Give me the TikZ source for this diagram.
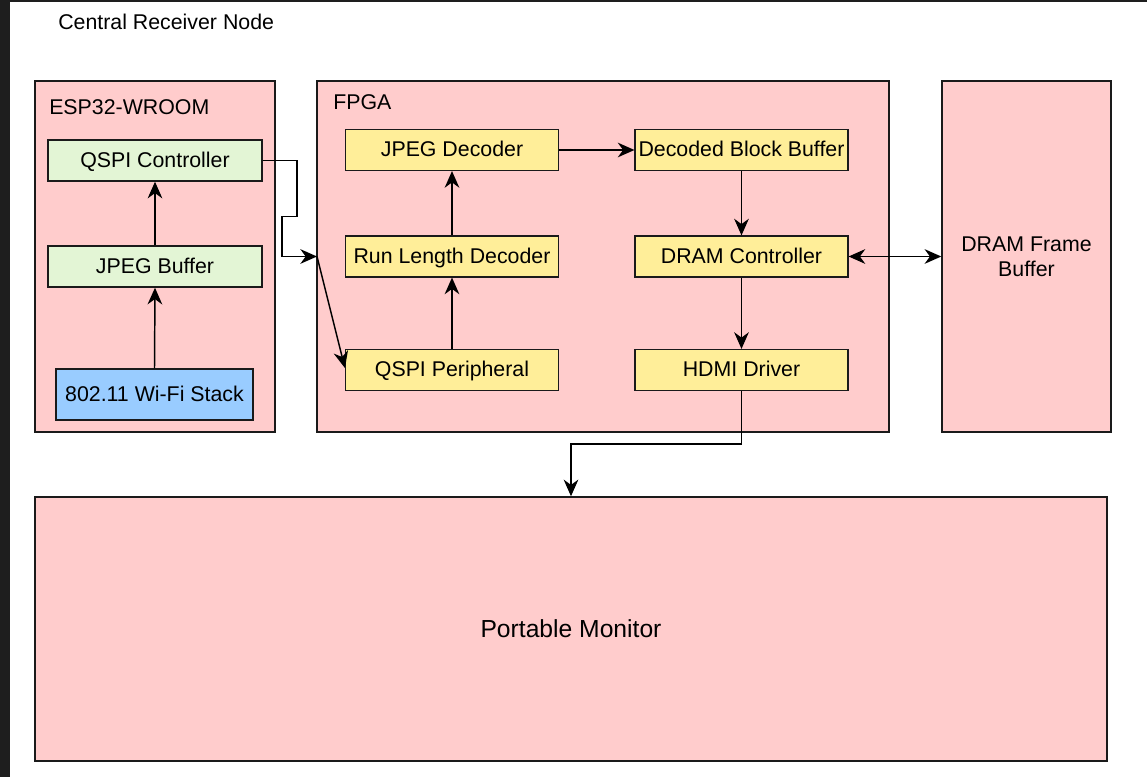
\documentclass[tikz,border=0pt]{standalone}
\usepackage{fontspec}
\setmainfont{Liberation Sans}
\usetikzlibrary{arrows.meta}
\definecolor{pinkfill}{HTML}{FFCCCC}
\definecolor{greenfill}{HTML}{E3F5D5}
\definecolor{yellowfill}{HTML}{FFEE99}
\definecolor{bluefill}{HTML}{99CCFF}
\definecolor{edge}{HTML}{1A1A1A}
\definecolor{strip}{HTML}{1E1E1E}
\tikzset{
  blk/.style={draw=edge, line width=1.1pt, inner sep=0pt, font=\fontsize{16}{19}\selectfont, text=black, align=center},
  outer/.style={blk, fill=pinkfill},
  inner/.style={blk, text height=13pt, text depth=2.5pt},
  green/.style={inner, fill=greenfill, minimum width=160.5pt, minimum height=30.75pt},
  yel/.style={inner, fill=yellowfill, minimum width=159.5pt, minimum height=30.5pt},
  blue/.style={inner, fill=bluefill, minimum width=147.75pt, minimum height=38.25pt},
  lbl/.style={anchor=west, inner sep=0pt, font=\fontsize{16}{19}\selectfont},
  arr/.style={draw=black, line width=1.1pt, -{Stealth[length=12.5pt, width=11pt, inset=4pt]}},
  darr/.style={draw=black, line width=1.1pt, {Stealth[length=12.5pt, width=11pt, inset=4pt]}-{Stealth[length=12.5pt, width=11pt, inset=4pt]}}
}
\begin{document}
\begin{tikzpicture}[x=0.75pt, y=-0.75pt]
\useasboundingbox (0,0) rectangle (1147,777);
\fill[white] (0,0) rectangle (1147,777);
\fill[strip] (0,0) rectangle (10,777);
\fill[strip] (0,0) rectangle (1147,2.5);

\node[lbl] (title) at (58,22) {Central Receiver Node};

% outer boxes
\node[outer, minimum width=180pt, minimum height=263.25pt] (esp) at (155,256.5) {};
\node[outer, minimum width=429pt, minimum height=263.25pt] (fpga) at (603,256.5) {};
\node[outer, minimum width=126.75pt, minimum height=263.25pt] (dfb) at (1026.5,256.5) {DRAM Frame\\Buffer};
\node[outer, minimum width=804pt, minimum height=198pt, font=\fontsize{18.5}{22}\selectfont] (mon) at (571,629) {Portable Monitor};

\node[lbl] (esplbl) at (49,107.5) {ESP32-WROOM};
\node[lbl] (fpgalbl) at (333,102.5) {FPGA};

% ESP32 inner
\node[green] (qspic) at (155,160.5) {QSPI Controller};
\node[green] (jbuf) at (155,266.5) {JPEG Buffer};
\node[blue] (wifi) at (154.5,394.5) {802.11 Wi-Fi Stack};

% FPGA inner
\node[yel] (jdec) at (452,150) {JPEG Decoder};
\node[yel] (dbb) at (741.5,150) {Decoded Block Buffer};
\node[yel] (rld) at (452,256.5) {Run Length Decoder};
\node[yel] (dramc) at (741.5,256.5) {DRAM Controller};
\node[yel] (qspip) at (452,370) {QSPI Peripheral};
\node[yel] (hdmi) at (741.5,370) {HDMI Driver};

\coordinate (fpgain) at (317,256.5);

% connectors
\draw[arr] (wifi.north) -- (jbuf.south);
\draw[arr] (jbuf.north) -- (qspic.south);
\draw[arr] (qspic.east) -- (297,160.5) -- (297,216.5) -- (282,216.5) -- (282,256.5) -- (fpgain);
\draw[arr] (fpgain) -- ([yshift=1.5pt]qspip.west);
\draw[arr] (qspip.north) -- (rld.south);
\draw[arr] (rld.north) -- (jdec.south);
\draw[arr] (jdec.east) -- (dbb.west);
\draw[arr] (dbb.south) -- (dramc.north);
\draw[arr] (dramc.south) -- (hdmi.north);
\draw[darr] (dramc.east) -- (dfb.west);
\draw[arr] (hdmi.south) -- (741.5,444) -| (mon.north);
\end{tikzpicture}
\end{document}
